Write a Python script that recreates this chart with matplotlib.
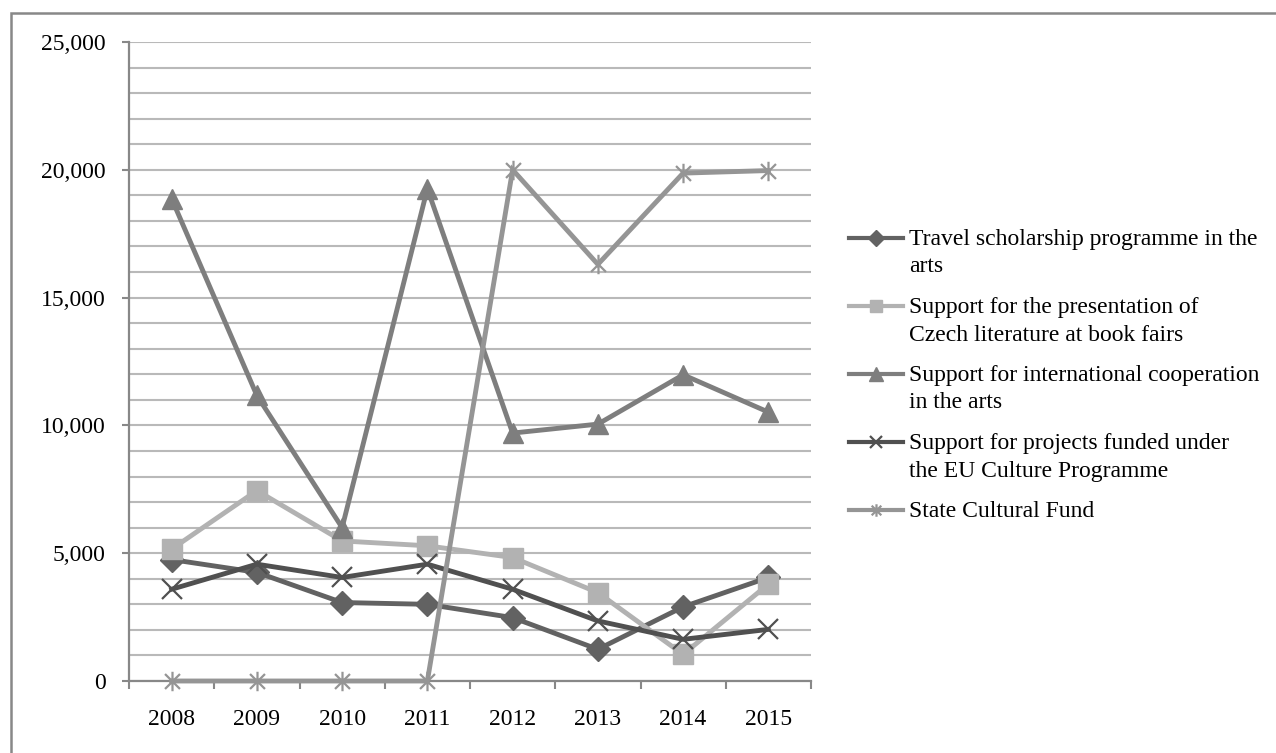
import matplotlib
matplotlib.use("Agg")
import matplotlib.pyplot as plt
from matplotlib.lines import Line2D
from matplotlib.patches import Rectangle
from matplotlib.path import Path
from matplotlib.ticker import FixedLocator, FuncFormatter, NullFormatter

# ---- data -------------------------------------------------------------
years = ["2008", "2009", "2010", "2011", "2012", "2013", "2014", "2015"]
travel = [4750, 4250, 3070, 3000, 2480, 1240, 2900, 4050]
book_fairs = [5160, 7450, 5480, 5290, 4830, 3460, 1040, 3790]
intl_coop = [18870, 11170, 6000, 19260, 9700, 10050, 11980, 10520]
eu_culture = [3590, 4570, 4050, 4570, 3590, 2350, 1630, 2020]
state_fund = [0, 0, 0, 0, 20000, 16300, 19870, 19970]

labels = [
    "Travel scholarship programme in the\narts",
    "Support for the presentation of\nCzech literature at book fairs",
    "Support for international cooperation\nin the arts",
    "Support for projects funded under\nthe EU Culture Programme",
    "State Cultural Fund",
]
y_major = [0, 5000, 10000, 15000, 20000, 25000]

# ---- style ------------------------------------------------------------
plt.rcParams["font.family"] = ["Liberation Serif", "DejaVu Serif"]
plt.rcParams["font.size"] = 17

W, H = 1276, 753
fig = plt.figure(figsize=(W / 100, H / 100), dpi=100)

# six-spoke asterisk marker (an X with a vertical bar)
star_path = Path(
    [(-1, -1), (1, 1), (-1, 1), (1, -1), (0, -1.3), (0, 1.3)],
    [Path.MOVETO, Path.LINETO] * 3,
)

series = [
    dict(values=travel, color="#626262", marker="D", ms=12, legend_ms=8, mew=1),
    dict(values=book_fairs, color="#b2b2b2", marker="s", ms=14, legend_ms=9, mew=1),
    dict(values=intl_coop, color="#7e7e7e", marker="^", ms=15, legend_ms=10, mew=1),
    dict(values=eu_culture, color="#505050", marker="x", ms=14, legend_ms=9, mew=1.6),
    dict(values=state_fund, color="#959595", marker=star_path, ms=14, legend_ms=9, mew=1.6),
]

# ---- axes -------------------------------------------------------------
ax_l, ax_r, ax_t, ax_b = 129, 811, 42, 681
ax = fig.add_axes([ax_l / W, (H - ax_b) / H, (ax_r - ax_l) / W, (ax_b - ax_t) / H])

x = list(range(len(years)))
for s in series:
    ax.plot(x, s["values"], color=s["color"], lw=3.5, marker=s["marker"],
            ms=s["ms"], mfc=s["color"], mec=s["color"], mew=s["mew"],
            solid_joinstyle="miter", clip_on=False, zorder=3)

ax.set_xlim(-0.5, len(years) - 0.5)
ax.set_ylim(0, 25000)

# y axis: labelled ticks every 5,000, gridlines every 1,000
ax.yaxis.set_major_locator(FixedLocator(y_major))
ax.yaxis.set_minor_locator(FixedLocator(range(0, 25001, 1000)))
ax.yaxis.set_major_formatter(FuncFormatter(lambda v, p: f"{v:,.0f}"))
ax.yaxis.grid(True, which="minor", color="#b9b9b9", lw=1.5)
ax.yaxis.grid(True, which="major", color="#b9b9b9", lw=1.5)
ax.tick_params(axis="y", which="major", length=5, width=1.5, color="#888888", pad=12)
ax.tick_params(axis="y", which="minor", length=0)

# x axis: tick marks between categories, labels at category centres
ax.xaxis.set_major_locator(FixedLocator([i - 0.5 for i in range(len(years) + 1)]))
ax.xaxis.set_major_formatter(NullFormatter())
ax.xaxis.set_minor_locator(FixedLocator(x))
ax.set_xticks(x, years, minor=True)
ax.tick_params(axis="x", which="major", length=6, width=1.5, color="#888888")
ax.tick_params(axis="x", which="minor", length=0, pad=20)

for side in ("top", "right"):
    ax.spines[side].set_visible(False)
for side in ("left", "bottom"):
    ax.spines[side].set_color("#888888")
    ax.spines[side].set_linewidth(1.6)
ax.set_axisbelow(True)

# ---- legend -----------------------------------------------------------
def fx(px):
    return px / W

def fy(py):
    return (H - py) / H

leg_y = [238, 306, 374, 442, 510]
line_gap = 27.5
for s, lab, yc in zip(series, labels, leg_y):
    fig.add_artist(Line2D([fx(849), fx(903)], [fy(yc), fy(yc)], color=s["color"],
                          lw=3.0, transform=fig.transFigure))
    fig.add_artist(Line2D([fx(876)], [fy(yc)], color=s["color"], marker=s["marker"],
                          ms=s["legend_ms"], mfc=s["color"], mec=s["color"],
                          mew=s["mew"], transform=fig.transFigure))
    for k, part in enumerate(lab.split("\n")):
        fig.text(fx(909), fy(yc + 7 + k * line_gap), part, ha="left",
                 va="baseline", color="black")

# ---- outer frame ------------------------------------------------------
fig.add_artist(Rectangle((fx(11), fy(H + 20)), fx(W + 40), fy(13) - fy(H + 20),
                         fill=False, ec="#888888", lw=1.8,
                         transform=fig.transFigure))

fig.savefig("out.png", dpi=100)
